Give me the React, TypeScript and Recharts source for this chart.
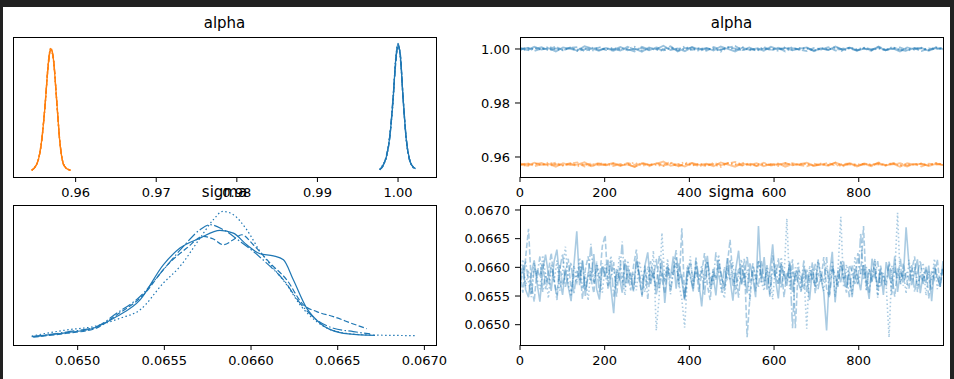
import { LineChart, Line, XAxis, YAxis } from "recharts";

const BLUE = "#1f77b4";
const ORANGE = "#ff7f0e";
const FONT = "'DejaVu Sans', sans-serif";
// solid, dashed, dotted, dash-dot (one per chain)
const DASHES = [undefined, "5.5 2.4", "1.5 2.5", "9.6 2.4 1.5 2.4"];

// ---- alpha posterior density (per chain) ----
const ALPHA0_X = [0.99773, 0.99814, 0.99855, 0.99897, 0.99938, 0.99971, 1.0, 1.00029, 1.00062, 1.00103, 1.00145, 1.00186, 1.00219];
const ALPHA0_DENS = [
  [4, 24, 60, 148, 310, 487, 560, 501, 325, 134, 46, 16, 9],
  [6, 20, 66, 140, 322, 470, 548, 512, 318, 140, 42, 18, 6],
  [3, 28, 56, 155, 300, 495, 556, 490, 332, 128, 50, 14, 8],
  [5, 22, 62, 152, 315, 480, 552, 505, 320, 137, 44, 17, 7],
];
const ALPHA1_X = [0.95455, 0.95496, 0.95537, 0.95579, 0.9562, 0.95661, 0.9569, 0.95723, 0.95765, 0.95806, 0.95847, 0.95888, 0.95938];
const ALPHA1_DENS = [
  [1, 16, 46, 134, 281, 472, 538, 494, 310, 119, 31, 9, 1],
  [3, 14, 50, 126, 290, 460, 530, 500, 302, 125, 28, 11, 2],
  [2, 18, 44, 140, 275, 480, 534, 488, 316, 114, 34, 8, 1],
  [1, 15, 48, 130, 285, 468, 540, 497, 306, 121, 30, 10, 2],
];
const ALPHA_KDE_TICKS = [0.96, 0.97, 0.98, 0.99, 1.0];

// ---- sigma posterior density (per chain), [value, density] ----
const SIGMA_KDE = [
  [[0.064735, 20], [0.064937, 61], [0.06509, 106], [0.065225, 225], [0.06536, 396], [0.065494, 754], [0.06559, 925], [0.065706, 1027], [0.065821, 1106], [0.065898, 1078], [0.065975, 959], [0.066052, 867], [0.066129, 846], [0.066187, 805], [0.066244, 601], [0.066321, 311], [0.066398, 157], [0.066513, 61], [0.066629, 38], [0.066715, 34]],
  [[0.064744, 14], [0.064937, 55], [0.06509, 96], [0.065225, 242], [0.065379, 447], [0.065513, 744], [0.065629, 925], [0.065725, 1044], [0.065783, 1017], [0.06584, 959], [0.065898, 1010], [0.065946, 1061], [0.066013, 959], [0.06611, 771], [0.066206, 601], [0.066302, 345], [0.066379, 276], [0.066475, 225], [0.06659, 150], [0.066667, 102]],
  [[0.064735, 27], [0.064937, 89], [0.06509, 123], [0.065244, 208], [0.06536, 294], [0.065494, 567], [0.06559, 737], [0.065706, 1027], [0.065783, 1215], [0.065837, 1300], [0.065898, 1266], [0.065975, 1113], [0.066052, 891], [0.066129, 720], [0.066206, 550], [0.066283, 345], [0.066379, 174], [0.066475, 82], [0.066629, 41], [0.066783, 34], [0.066946, 31]],
  [[0.064744, 20], [0.064937, 68], [0.06511, 123], [0.065225, 259], [0.06536, 430], [0.065494, 703], [0.06561, 942], [0.065706, 1113], [0.065763, 1164], [0.06584, 1113], [0.065937, 993], [0.066013, 891], [0.06609, 771], [0.066187, 601], [0.066283, 362], [0.066379, 191], [0.066475, 106], [0.06659, 72], [0.066687, 48]],
];
const SIGMA_TICKS = [0.065, 0.0655, 0.066, 0.0665, 0.067];

// ---- traces (thinned draws, spread over draws 0..999) ----
const LAST_DRAW = 999;
const DRAW_TICKS = [0, 200, 400, 600, 800];
const ALPHA_TRACE_TICKS = [0.96, 0.98, 1.0];

const ALPHA0_TRACE = [
  [1.0005, 0.9996, 1.0008, 0.9998, 1.0003, 0.9991, 1.0006, 1.0, 0.9994, 1.001, 1.0002, 0.9993, 1.0004, 0.9997, 1.0007, 0.9995, 1.0001, 0.999, 1.0006, 0.9999, 1.0012, 0.9996, 1.0002, 0.9992, 1.0007, 0.9998, 1.0004, 0.9994, 1.0009, 1.0, 0.9991, 1.0005, 0.9997, 1.0002, 0.9993, 1.0008, 0.9999, 1.0004, 0.9995, 1.0001, 1.0006, 0.9992, 1.0003, 0.9996, 1.0009, 0.9998, 1.0005, 0.9994, 1.0001, 0.9997, 1.0007, 0.9995, 1.0002, 0.9991, 1.0006, 0.9999, 1.0004, 0.9993, 1.0003, 1.0],
  [0.9997, 1.0006, 0.9993, 1.0002, 0.9999, 1.0009, 0.9995, 1.0004, 1.0007, 0.9992, 1.0001, 1.0005, 0.9996, 1.0, 0.9994, 1.0008, 0.9998, 1.0003, 0.9995, 1.0006, 0.9999, 1.001, 0.9991, 1.0004, 0.9997, 1.0002, 0.9993, 1.0007, 0.9998, 1.0005, 1.0011, 0.9996, 1.0001, 0.9994, 1.0008, 0.9995, 1.0003, 0.9999, 1.0006, 0.9997, 0.9992, 1.0004, 0.9998, 1.0007, 0.9994, 1.0001, 1.0005, 0.9996, 1.0002, 0.9993, 1.0009, 0.9997, 1.0, 1.0006, 0.9995, 1.0003, 0.9992, 1.0002, 0.9999, 1.0005],
  [1.0, 0.9994, 1.0005, 0.9997, 1.0009, 0.9999, 0.9995, 1.0004, 0.9998, 1.0003, 0.9992, 1.0007, 0.9999, 1.0005, 0.9996, 1.0001, 1.0008, 0.9994, 1.0002, 0.9997, 0.9993, 1.0006, 0.9999, 1.001, 0.9995, 1.0004, 0.9998, 1.0002, 0.999, 1.0006, 0.9997, 1.0008, 0.9995, 1.0003, 0.9999, 1.0002, 0.9993, 1.0007, 0.9997, 1.0004, 1.0001, 0.9994, 1.0005, 0.9998, 1.0003, 0.9991, 1.0006, 0.9999, 1.0004, 0.9995, 1.0002, 0.9997, 1.0008, 0.9994, 1.0001, 0.9998, 1.0005, 0.9996, 1.0007, 0.9999],
  [0.9998, 1.0004, 0.9999, 1.0007, 0.9994, 1.0002, 0.9997, 1.0006, 0.9992, 0.9999, 1.0005, 0.9996, 1.0002, 0.9993, 1.0003, 0.9999, 0.9991, 1.0008, 0.9998, 1.0001, 0.9995, 1.0004, 0.9994, 1.0, 1.0006, 0.9992, 1.0002, 0.9999, 0.9996, 1.0007, 1.0001, 0.9995, 1.0006, 0.9993, 1.0002, 0.9997, 1.0005, 0.9991, 1.0003, 0.9998, 1.0004, 0.9994, 1.0001, 0.9997, 1.0008, 0.9996, 1.0002, 0.9993, 1.0005, 0.9999, 1.0003, 0.9995, 1.0006, 0.9998, 0.9992, 1.0004, 1.0001, 0.9996, 1.0006, 0.9997],
];
const ALPHA1_TRACE = [
  [0.9576, 0.9567, 0.9579, 0.9571, 0.9574, 0.9564, 0.9577, 0.957, 0.9572, 0.9581, 0.9566, 0.9575, 0.9571, 0.9578, 0.9568, 0.9573, 0.9563, 0.9577, 0.957, 0.9575, 0.9583, 0.9567, 0.9573, 0.9565, 0.9578, 0.9571, 0.9575, 0.9566, 0.958, 0.9572, 0.9564, 0.9576, 0.957, 0.9577, 0.9566, 0.9574, 0.9571, 0.9578, 0.9569, 0.9574, 0.9579, 0.9568, 0.9573, 0.9567, 0.958, 0.9569, 0.9576, 0.9565, 0.9574, 0.957, 0.9578, 0.9568, 0.9575, 0.9564, 0.9577, 0.9572, 0.9575, 0.9566, 0.9574, 0.9571],
  [0.957, 0.9577, 0.9566, 0.9573, 0.9571, 0.9579, 0.9568, 0.9575, 0.958, 0.9565, 0.9572, 0.9576, 0.9569, 0.9574, 0.9567, 0.9578, 0.9571, 0.9575, 0.9566, 0.9577, 0.9572, 0.9581, 0.9564, 0.9575, 0.957, 0.9573, 0.9566, 0.9578, 0.9571, 0.9576, 0.9582, 0.9569, 0.9574, 0.9567, 0.9579, 0.9568, 0.9574, 0.9572, 0.9577, 0.957, 0.9565, 0.9575, 0.9571, 0.9578, 0.9567, 0.9574, 0.9576, 0.9569, 0.9573, 0.9566, 0.958, 0.957, 0.9573, 0.9577, 0.9568, 0.9574, 0.9565, 0.9575, 0.9572, 0.9576],
  [0.9573, 0.9566, 0.9576, 0.957, 0.958, 0.9572, 0.9568, 0.9575, 0.9571, 0.9574, 0.9565, 0.9578, 0.9572, 0.9576, 0.9569, 0.9574, 0.9579, 0.9567, 0.9573, 0.957, 0.9566, 0.9577, 0.9572, 0.9581, 0.9568, 0.9575, 0.9571, 0.9573, 0.9563, 0.9577, 0.957, 0.9579, 0.9568, 0.9574, 0.9572, 0.9573, 0.9566, 0.9578, 0.957, 0.9575, 0.9574, 0.9567, 0.9576, 0.9571, 0.9574, 0.9564, 0.9577, 0.9572, 0.9575, 0.9568, 0.9573, 0.957, 0.9579, 0.9567, 0.9574, 0.9571, 0.9576, 0.9569, 0.9578, 0.9572],
  [0.9571, 0.9575, 0.9572, 0.9578, 0.9567, 0.9573, 0.957, 0.9577, 0.9565, 0.9572, 0.9576, 0.9569, 0.9573, 0.9566, 0.9574, 0.9572, 0.9564, 0.9579, 0.9571, 0.9574, 0.9568, 0.9575, 0.9567, 0.9573, 0.9577, 0.9565, 0.9573, 0.9572, 0.9569, 0.9578, 0.9574, 0.9568, 0.9577, 0.9566, 0.9573, 0.957, 0.9576, 0.9564, 0.9574, 0.9571, 0.9575, 0.9567, 0.9572, 0.957, 0.9579, 0.9569, 0.9573, 0.9566, 0.9576, 0.9572, 0.9574, 0.9568, 0.9577, 0.9571, 0.9565, 0.9575, 0.9574, 0.9569, 0.9577, 0.957],
];

const SIGMA_TRACE = [
  [
    0.06575, 0.06602, 0.06561, 0.06548, 0.0659, 0.06612, 0.06573, 0.0654, 0.06595, 0.06622, 0.06588, 0.06559, 0.0661, 0.06631, 0.06579,
    0.06552, 0.06598, 0.06566, 0.06541, 0.06604, 0.06663, 0.06569, 0.06612, 0.0655, 0.06591, 0.06577, 0.06623, 0.06562, 0.06544, 0.06601,
    0.06583, 0.06613, 0.06565, 0.0652, 0.06597, 0.06584, 0.06556, 0.06608, 0.06572, 0.06591, 0.0656, 0.06615, 0.06587, 0.06549, 0.06603,
    0.06626, 0.06571, 0.06594, 0.06553, 0.0658, 0.06612, 0.06538, 0.06596, 0.06581, 0.06619, 0.06563, 0.06607, 0.06577, 0.06545, 0.06599,
    0.06586, 0.06558, 0.06611, 0.06574, 0.06532, 0.06593, 0.0662, 0.06567, 0.06588, 0.06551, 0.06605, 0.06583, 0.06564, 0.06616, 0.06578,
    0.06542, 0.06597, 0.06629, 0.0657, 0.06589, 0.06555, 0.06607, 0.06582, 0.06548, 0.06672, 0.06574, 0.06618, 0.06561, 0.06592, 0.0664,
    0.06579, 0.06546, 0.06606, 0.06585, 0.06568, 0.0661, 0.06557, 0.0659, 0.06573, 0.0656, 0.06601, 0.06585, 0.06543, 0.06597, 0.06566,
    0.06612, 0.06581, 0.06556, 0.0649, 0.06588, 0.06627, 0.06539, 0.06595, 0.06574, 0.0661, 0.06564, 0.06592, 0.06548, 0.06598, 0.06583,
    0.0656, 0.06604, 0.06577, 0.06545, 0.06615, 0.0659, 0.06566, 0.06598, 0.06552, 0.06609, 0.06584, 0.06571, 0.06619, 0.06557, 0.06594,
    0.0658, 0.0667, 0.06606, 0.06569, 0.06592, 0.06614, 0.06555, 0.06588, 0.06573, 0.06603, 0.06541, 0.06598, 0.06582, 0.06566, 0.06611,
  ],
  [
    0.06588, 0.06556, 0.06618, 0.06667, 0.06571, 0.0654, 0.06597, 0.06583, 0.06609, 0.06562, 0.06593, 0.06625, 0.06577, 0.06551, 0.06604,
    0.06569, 0.0659, 0.06615, 0.06558, 0.06586, 0.06573, 0.06602, 0.06545, 0.06596, 0.06619, 0.0658, 0.06555, 0.06608, 0.06576, 0.06637,
    0.06656, 0.06562, 0.06584, 0.06609, 0.06549, 0.06599, 0.06572, 0.06614, 0.06587, 0.0656, 0.06603, 0.06631, 0.06578, 0.06552, 0.06596,
    0.0657, 0.06611, 0.06585, 0.06564, 0.0662, 0.06581, 0.06554, 0.066, 0.06593, 0.06589, 0.06617, 0.06566, 0.06668, 0.06547, 0.06582,
    0.0661, 0.06575, 0.06601, 0.06557, 0.0659, 0.06625, 0.06569, 0.06543, 0.06597, 0.06578, 0.06613, 0.06586, 0.06559, 0.06604, 0.06648,
    0.0658, 0.06563, 0.06599, 0.06571, 0.06615, 0.06478, 0.0655, 0.06607, 0.06582, 0.06566, 0.06612, 0.06576, 0.06595, 0.06553, 0.06621,
    0.06584, 0.0657, 0.06606, 0.06548, 0.06592, 0.06579, 0.06614, 0.06494, 0.066, 0.06583, 0.06561, 0.06596, 0.06573, 0.06609, 0.06555,
    0.0659, 0.06575, 0.06618, 0.06563, 0.06547, 0.06602, 0.06586, 0.06569, 0.06611, 0.0658, 0.06556, 0.06604, 0.06593, 0.06571, 0.06625,
    0.06588, 0.06672, 0.0656, 0.06597, 0.06574, 0.06615, 0.06551, 0.06603, 0.06579, 0.06566, 0.0661, 0.06585, 0.06549, 0.06598, 0.06572,
    0.06607, 0.06581, 0.06563, 0.06594, 0.06619, 0.06557, 0.06588, 0.06575, 0.06602, 0.06546, 0.06593, 0.0658, 0.06614, 0.06566, 0.066,
  ],
  [
    0.06582, 0.06614, 0.06567, 0.06595, 0.06553, 0.06608, 0.0658, 0.06562, 0.06621, 0.06587, 0.06546, 0.06599, 0.06574, 0.06612, 0.06559,
    0.06591, 0.06636, 0.06571, 0.06549, 0.06603, 0.06578, 0.06617, 0.06563, 0.06588, 0.06542, 0.06599, 0.06573, 0.0661, 0.06584, 0.06556,
    0.06605, 0.06579, 0.0662, 0.06597, 0.06568, 0.0662, 0.06583, 0.06551, 0.06612, 0.06574, 0.06591, 0.0656, 0.06611, 0.06586, 0.06557,
    0.06602, 0.06572, 0.06629, 0.0649, 0.06547, 0.0666, 0.06576, 0.06615, 0.06561, 0.06589, 0.06607, 0.0657, 0.06545, 0.06495, 0.06584,
    0.06619, 0.06566, 0.06593, 0.06578, 0.06604, 0.06573, 0.06611, 0.06558, 0.06595, 0.06581, 0.06622, 0.06564, 0.06546, 0.06599, 0.06577,
    0.06609, 0.06552, 0.06587, 0.06614, 0.06569, 0.06596, 0.06541, 0.06603, 0.0658, 0.06612, 0.06575, 0.06559, 0.06601, 0.06588, 0.06544,
    0.06606, 0.06571, 0.06618, 0.06583, 0.06685, 0.06562, 0.06597, 0.06574, 0.0661, 0.06556, 0.06589, 0.06493, 0.06603, 0.0658, 0.06567,
    0.06614, 0.06587, 0.06559, 0.066, 0.06576, 0.06612, 0.06548, 0.06594, 0.06688, 0.06565, 0.06605, 0.06582, 0.06553, 0.06619, 0.06571,
    0.0659, 0.06606, 0.06561, 0.06598, 0.06575, 0.06611, 0.06547, 0.06592, 0.06584, 0.06567, 0.06478, 0.06603, 0.06588, 0.06695, 0.0657,
    0.06596, 0.06554, 0.06613, 0.06579, 0.06601, 0.06566, 0.06589, 0.06608, 0.06551, 0.06593, 0.06578, 0.06615, 0.06562, 0.06586, 0.066,
  ],
  [
    0.06569, 0.06593, 0.0661, 0.06575, 0.06548, 0.06598, 0.06585, 0.06619, 0.06557, 0.0659, 0.06571, 0.06605, 0.06581, 0.06543, 0.06596,
    0.06624, 0.06566, 0.06587, 0.06609, 0.06553, 0.06594, 0.06578, 0.06612, 0.0656, 0.06583, 0.06641, 0.06572, 0.06599, 0.06555, 0.06607,
    0.06586, 0.06568, 0.06613, 0.06549, 0.06592, 0.06577, 0.06645, 0.06564, 0.066, 0.06581, 0.06558, 0.0661, 0.06589, 0.0657, 0.06603,
    0.06545, 0.06596, 0.0658, 0.06615, 0.06562, 0.06591, 0.06574, 0.06607, 0.06553, 0.06598, 0.0663, 0.06576, 0.06588, 0.06541, 0.06604,
    0.06583, 0.06563, 0.06617, 0.06579, 0.06594, 0.06551, 0.06609, 0.06585, 0.0657, 0.06626, 0.0659, 0.06556, 0.06601, 0.06577, 0.06614,
    0.06566, 0.06596, 0.06547, 0.06605, 0.06582, 0.0662, 0.06573, 0.06592, 0.06558, 0.06611, 0.06587, 0.06568, 0.06604, 0.06549, 0.06597,
    0.06581, 0.06616, 0.06563, 0.06593, 0.06575, 0.06608, 0.06494, 0.066, 0.06584, 0.06571, 0.06612, 0.06557, 0.06595, 0.06578, 0.06606,
    0.06562, 0.06589, 0.06574, 0.06618, 0.06551, 0.06597, 0.06583, 0.06566, 0.06609, 0.06577, 0.06592, 0.06548, 0.06603, 0.06586, 0.06569,
    0.0666, 0.06578, 0.06601, 0.06556, 0.06594, 0.06583, 0.06611, 0.06565, 0.0659, 0.06574, 0.06607, 0.06552, 0.06597, 0.06581, 0.06615,
    0.06568, 0.06593, 0.06579, 0.06604, 0.06557, 0.06588, 0.06612, 0.06571, 0.06596, 0.0658, 0.0656, 0.06603, 0.06585, 0.0657, 0.06598,
  ],
];

// plot rectangles on the page (matplotlib axes)
const PLOT_W = 423;
const PLOT_H = 140;
const LEFT_X = 13;
const RIGHT_X = 520;
const TOP_Y = 37;
const BOTTOM_Y = 205;
const Y_AXIS_W = 60;
const X_AXIS_H = 30;
const PAD_TOP = 10;
const PAD_RIGHT = 24;

const tickStyle = { fontFamily: FONT, fontSize: 13, fill: "#000" };
const tickLine = { stroke: "#000" };
const chartMargin = { top: PAD_TOP, right: PAD_RIGHT, bottom: 0, left: 0 };

function kdeRows(xs: number[], ys: number[]) {
  return xs.map((x, i) => ({ x, y: ys[i] }));
}

function traceRows(chains: number[][], prefix: string) {
  const n = chains[0].length;
  return chains[0].map((_, i) => {
    const row: Record<string, number> = { draw: (i * LAST_DRAW) / (n - 1) };
    chains.forEach((c, k) => (row[prefix + k] = c[i]));
    return row;
  });
}

const alphaTraceData = traceRows(ALPHA0_TRACE, "a0_").map((r, i) => ({
  ...r,
  ...traceRows(ALPHA1_TRACE, "a1_")[i],
}));
const sigmaTraceData = traceRows(SIGMA_TRACE, "s");

function Frame({ x, y }: { x: number; y: number }) {
  return (
    <div
      style={{
        position: "absolute",
        left: x - 0.5,
        top: y - 0.5,
        width: PLOT_W + 1,
        height: PLOT_H + 1,
        border: "1px solid #000",
        boxSizing: "border-box",
        pointerEvents: "none",
      }}
    />
  );
}

function Title({ text, x, cy }: { text: string; x: number; cy: number }) {
  return (
    <div
      style={{
        position: "absolute",
        left: x + PLOT_W / 2 - 100,
        top: cy - 9,
        width: 200,
        textAlign: "center",
        fontFamily: FONT,
        fontSize: 15,
        lineHeight: "18px",
        color: "#000",
      }}
    >
      {text}
    </div>
  );
}

function xAxis(domain: number[], ticks: number[], fmt: (v: number) => string, key = "x") {
  return (
    <XAxis
      dataKey={key}
      type="number"
      domain={domain}
      ticks={ticks}
      interval={0}
      allowDataOverflow
      tickFormatter={fmt}
      tick={tickStyle}
      tickLine={tickLine}
      tickSize={5}
      tickMargin={6}
      axisLine={false}
      height={X_AXIS_H}
    />
  );
}

function yAxis(domain: number[], ticks: number[], digits: number) {
  return (
    <YAxis
      type="number"
      domain={domain}
      ticks={ticks}
      interval={0}
      allowDataOverflow
      tickFormatter={(v) => v.toFixed(digits)}
      tick={tickStyle}
      tickLine={tickLine}
      tickSize={5}
      tickMargin={5}
      axisLine={false}
      width={Y_AXIS_W}
    />
  );
}

const leftBox = (y: number) => ({ position: "absolute" as const, left: LEFT_X, top: y - PAD_TOP });
const rightBox = (y: number) => ({ position: "absolute" as const, left: RIGHT_X - Y_AXIS_W, top: y - PAD_TOP });
const CH = PAD_TOP + PLOT_H + X_AXIS_H;

export default function App() {
  return (
    <div style={{ position: "absolute", left: 0, top: 0, width: 954, height: 379, background: "#fff", overflow: "hidden" }}>
      <div style={{ position: "absolute", left: 0, top: 0, width: 954, height: 7, background: "#212121" }} />
      <div style={{ position: "absolute", left: 0, top: 0, width: 3, height: 379, background: "#212121" }} />

      {/* alpha density */}
      <div style={leftBox(TOP_Y)}>
        <LineChart width={PLOT_W + PAD_RIGHT} height={CH} margin={chartMargin}>
          {xAxis([0.95223, 1.00471], ALPHA_KDE_TICKS, (v) => v.toFixed(2))}
          <YAxis hide type="number" domain={[-28, 588]} allowDataOverflow />
          {ALPHA0_DENS.map((d, k) => (
            <Line key={"b" + k} data={kdeRows(ALPHA0_X, d)} dataKey="y" type="monotone" stroke={BLUE} strokeWidth={1.3} strokeDasharray={DASHES[k]} dot={false} isAnimationActive={false} />
          ))}
          {ALPHA1_DENS.map((d, k) => (
            <Line key={"o" + k} data={kdeRows(ALPHA1_X, d)} dataKey="y" type="monotone" stroke={ORANGE} strokeWidth={1.3} strokeDasharray={DASHES[k]} dot={false} isAnimationActive={false} />
          ))}
        </LineChart>
      </div>

      {/* alpha trace */}
      <div style={rightBox(TOP_Y)}>
        <LineChart width={Y_AXIS_W + PLOT_W + PAD_RIGHT} height={CH} data={alphaTraceData} margin={chartMargin}>
          {xAxis([0, LAST_DRAW], DRAW_TICKS, (v) => String(v), "draw")}
          {yAxis([0.95259, 1.00444], ALPHA_TRACE_TICKS, 2)}
          {ALPHA0_TRACE.map((_, k) => (
            <Line key={"a0" + k} dataKey={"a0_" + k} type="linear" stroke={BLUE} strokeOpacity={0.45} strokeWidth={1.8} strokeDasharray={DASHES[k]} dot={false} isAnimationActive={false} />
          ))}
          {ALPHA1_TRACE.map((_, k) => (
            <Line key={"a1" + k} dataKey={"a1_" + k} type="linear" stroke={ORANGE} strokeOpacity={0.45} strokeWidth={1.8} strokeDasharray={DASHES[k]} dot={false} isAnimationActive={false} />
          ))}
        </LineChart>
      </div>

      {/* sigma density */}
      <div style={leftBox(BOTTOM_Y)}>
        <LineChart width={PLOT_W + PAD_RIGHT} height={CH} margin={chartMargin}>
          {xAxis([0.064627, 0.067067], SIGMA_TICKS, (v) => v.toFixed(4))}
          <YAxis hide type="number" domain={[-65, 1365]} allowDataOverflow />
          {SIGMA_KDE.map((pts, k) => (
            <Line key={"s" + k} data={pts.map(([x, y]) => ({ x, y }))} dataKey="y" type="monotone" stroke={BLUE} strokeWidth={1.2} strokeDasharray={DASHES[k]} dot={false} isAnimationActive={false} />
          ))}
        </LineChart>
      </div>

      {/* sigma trace */}
      <div style={rightBox(BOTTOM_Y)}>
        <LineChart width={Y_AXIS_W + PLOT_W + PAD_RIGHT} height={CH} data={sigmaTraceData} margin={chartMargin}>
          {xAxis([0, LAST_DRAW], DRAW_TICKS, (v) => String(v), "draw")}
          {yAxis([0.064646, 0.067087], SIGMA_TICKS, 4)}
          {SIGMA_TRACE.map((_, k) => (
            <Line key={"st" + k} dataKey={"s" + k} type="linear" stroke={BLUE} strokeOpacity={0.38} strokeWidth={1.6} strokeDasharray={DASHES[k]} dot={false} isAnimationActive={false} />
          ))}
        </LineChart>
      </div>

      <div style={{ position: "absolute", left: 950, top: 0, width: 4, height: 379, background: "#212121" }} />

      <Frame x={LEFT_X} y={TOP_Y} />
      <Frame x={RIGHT_X} y={TOP_Y} />
      <Frame x={LEFT_X} y={BOTTOM_Y} />
      <Frame x={RIGHT_X} y={BOTTOM_Y} />

      <Title text="alpha" x={LEFT_X} cy={23} />
      <Title text="alpha" x={RIGHT_X} cy={23} />
      <Title text="sigma" x={LEFT_X} cy={192} />
      <Title text="sigma" x={RIGHT_X} cy={192} />
    </div>
  );
}
